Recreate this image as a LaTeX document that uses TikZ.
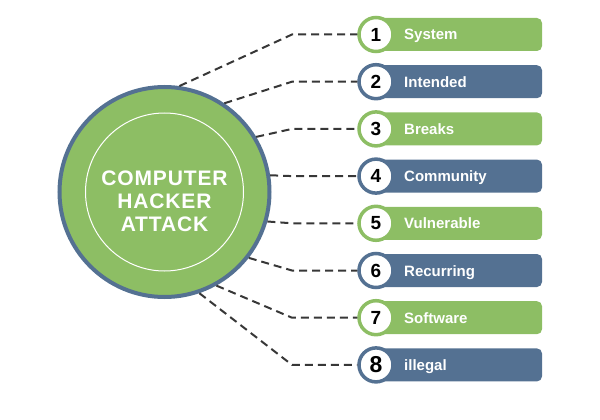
\documentclass[tikz,border=0pt]{standalone}
\usepackage{fontspec}
\setmainfont{Liberation Sans}
\newfontfamily\titlefont[LetterSpace=4]{Liberation Sans}
\definecolor{hgreen}{RGB}{141,190,100}
\definecolor{hblue}{RGB}{84,113,146}
\definecolor{dashgray}{RGB}{55,55,55}
\tikzset{
  bigcirc/.style={circle, draw=hblue, line width=4pt, fill=hgreen, minimum size=210pt, inner sep=0pt},
  innercirc/.style={circle, draw=white, line width=1pt, minimum size=158pt, inner sep=0pt},
  titletext/.style={text=white, font=\titlefont\bfseries\fontsize{21}{23}\selectfont, align=center},
  itembox/.style={rectangle, rounded corners=5pt, minimum width=166pt, minimum height=33pt, inner sep=0pt},
  numcirc/.style={circle, line width=3.5pt, fill=white, minimum size=34pt, inner sep=0pt, font=\bfseries\fontsize{19}{19}\selectfont},
  itemlabel/.style={text=white, font=\bfseries\fontsize{15}{15}\selectfont, anchor=base west, inner sep=0pt},
  connector/.style={draw=dashgray, line width=2pt, dash pattern=on 8pt off 5pt}
}
\begin{document}
\begin{tikzpicture}[x=1pt,y=-1pt]
\useasboundingbox (0,0) rectangle (600,420);
\node[bigcirc] (c) at (164.5,192) {};
\node[innercirc] (ci) at (164.5,192) {};
\node[titletext] (title) at (164.5,201) {COMPUTER\\HACKER\\ATTACK};
\foreach \i/\lab/\col/\ang [evaluate=\i as \yy using 34.5+47.2*(\i-1)] in
  {1/System/hgreen/82, 2/Intended/hblue/56, 3/Breaks/hgreen/31, 4/Community/hblue/9,
   5/Vulnerable/hgreen/-16, 6/Recurring/hblue/-38, 7/Software/hgreen/-61, 8/illegal/hblue/-71}{
  \node[itembox, fill=\col] (b\i) at (459,\yy) {};
  \node[numcirc, draw=\col] (n\i) at (376,\yy) {\ifnum\i=8\fontsize{23}{23}\selectfont\fi\i};
  \node[itemlabel] (t\i) at (404,\yy+5.5) {\lab};
  \coordinate (k\i) at (292,\yy);
  \draw[connector] (c.\ang) -- (k\i) -- (n\i);
}
\end{tikzpicture}
\end{document}
